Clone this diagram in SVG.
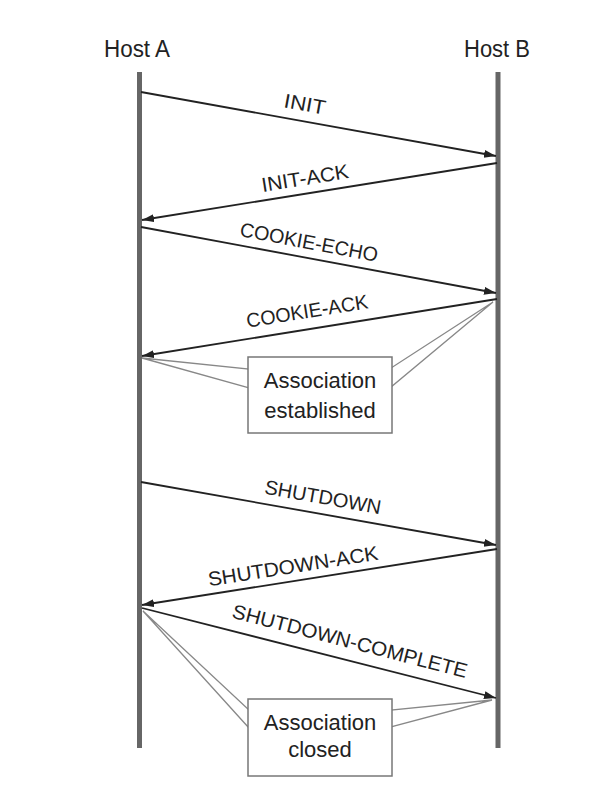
<svg xmlns="http://www.w3.org/2000/svg" width="610" height="794" viewBox="0 0 610 794">
<defs>
<style>
.life{stroke:#666;stroke-width:5;fill:none}
.msg{stroke:#222;stroke-width:1.8;fill:none;marker-end:url(#ah)}
.lbl{font-family:"Liberation Sans",Arial,sans-serif;font-size:20px;fill:#222;text-anchor:middle;dominant-baseline:central}
.host{font-family:"Liberation Sans",Arial,sans-serif;font-size:23px;fill:#222;text-anchor:middle}
.box{fill:#fff;stroke:#777;stroke-width:1.5}
.wedge{fill:#fff;stroke:#888;stroke-width:1.3;stroke-linejoin:miter}
.btxt{font-family:"Liberation Sans",Arial,sans-serif;font-size:22px;fill:#222;text-anchor:middle}
</style>
<marker id="ah" markerUnits="userSpaceOnUse" markerWidth="14" markerHeight="10" refX="12" refY="4" orient="auto">
<path d="M0,0 L12,4 L0,8 Z" fill="#222"/>
</marker>
</defs>
<rect width="610" height="794" fill="#fff"/>
<g id="hostA">
<text class="host" x="137" y="57" textLength="66" lengthAdjust="spacingAndGlyphs">Host A</text>
<line class="life" x1="139.5" y1="72" x2="139.5" y2="748"/>
</g>
<g id="hostB">
<text class="host" x="497" y="57" textLength="66" lengthAdjust="spacingAndGlyphs">Host B</text>
<line class="life" x1="498" y1="72" x2="498" y2="748"/>
</g>
<g id="established">
<polygon class="wedge" points="142,358 249,369 249,388"/>
<polygon class="wedge" points="493,302 391,368 391,387"/>
<rect class="box" x="248" y="357" width="144" height="76"/>
<text class="btxt" x="320" y="388">Association</text>
<text class="btxt" x="320" y="418">established</text>
</g>
<g id="closed">
<polygon class="wedge" points="143,611 249,710 249,728"/>
<polygon class="wedge" points="492,700 391,710 391,727"/>
<rect class="box" x="248" y="699" width="144" height="77"/>
<text class="btxt" x="320" y="730">Association</text>
<text class="btxt" x="320" y="757">closed</text>
</g>
<g id="connectors">
<line class="msg" x1="141" y1="92" x2="496" y2="156"/>
<line class="msg" x1="497" y1="163" x2="142" y2="220"/>
<line class="msg" x1="141" y1="227" x2="496" y2="293"/>
<line class="msg" x1="497" y1="299" x2="142" y2="356"/>
<line class="msg" x1="141" y1="482" x2="496" y2="545"/>
<line class="msg" x1="497" y1="549" x2="142" y2="605"/>
<line class="msg" x1="142" y1="608" x2="496" y2="698"/>
<text class="lbl" transform="rotate(10.3 305 104)" x="305" y="104" textLength="42" lengthAdjust="spacingAndGlyphs">INIT</text>
<text class="lbl" transform="rotate(-9.2 305 178)" x="305" y="178" textLength="88" lengthAdjust="spacingAndGlyphs">INIT-ACK</text>
<text class="lbl" transform="rotate(10.7 309 242)" x="309" y="242" textLength="140" lengthAdjust="spacingAndGlyphs">COOKIE-ECHO</text>
<text class="lbl" transform="rotate(-9.2 307 311)" x="307" y="311" textLength="123" lengthAdjust="spacingAndGlyphs">COOKIE-ACK</text>
<text class="lbl" transform="rotate(10.1 323 497)" x="323" y="497" textLength="118" lengthAdjust="spacingAndGlyphs">SHUTDOWN</text>
<text class="lbl" transform="rotate(-9 293 566)" x="293" y="566" textLength="172" lengthAdjust="spacingAndGlyphs">SHUTDOWN-ACK</text>
<text class="lbl" transform="rotate(14.5 350 641)" x="350" y="641" textLength="242" lengthAdjust="spacingAndGlyphs">SHUTDOWN-COMPLETE</text>
</g>
</svg>
